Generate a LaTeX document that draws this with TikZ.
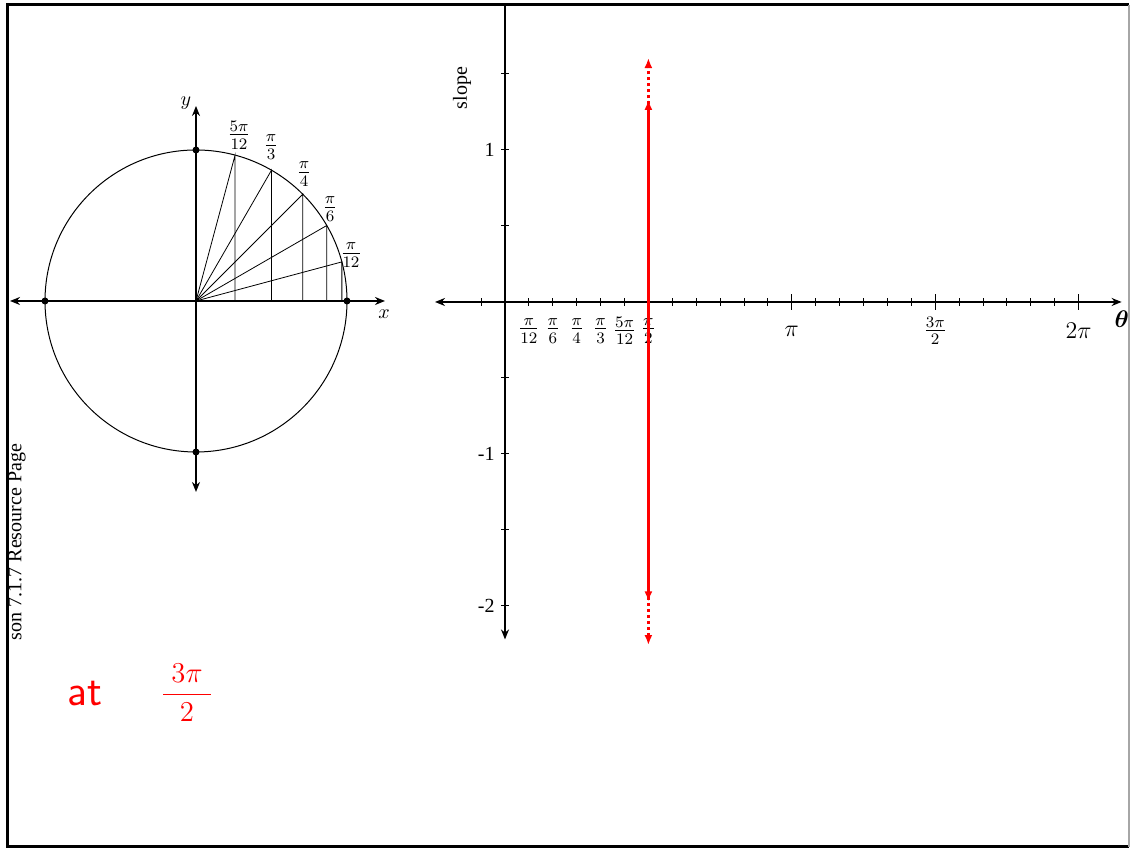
\documentclass[tikz,border=0pt]{standalone}
\usepackage{amsmath,amssymb}
\usepackage{fontspec}
\setmainfont{Liberation Serif}
\usetikzlibrary{arrows.meta}

\begin{document}
\begin{tikzpicture}[
  x=0.5pt, y=0.5pt,
  axis/.style={line width=0.9pt},
  dot/.style={circle,fill,inner sep=0pt,minimum size=3.5pt},
  lbl/.style={font=\normalsize,inner sep=1pt},
  frac/.style={font=\large,inner sep=1pt},
  slopeline/.style={red,line width=1.1pt}
]
  \useasboundingbox (0,0) rectangle (1131,849);

  % page frame
  \draw[line width=1.5pt] (1129,844) -- (7,844) -- (7,2) -- (1129,2);
  \draw[black!35,line width=0.6pt] (1129,844) -- (1129,2);
  \node[rotate=90,font=\normalsize] (page) at (17,307) {son 7.1.7 Resource Page};

  % unit circle
  \begin{scope}[shift={(196,548)}]
    \draw[line width=0.5pt] (0,0) circle (151);
    \draw[axis,{Stealth[length=5pt,width=4pt]}-{Stealth[length=5pt,width=4pt]}] (-186,0) -- (189,0);
    \draw[axis,{Stealth[length=5pt,width=4pt]}-{Stealth[length=5pt,width=4pt]}] (0,-191) -- (0,195);
    \foreach \a in {15,30,...,75} {
      \draw[line width=0.4pt] (0,0) -- (\a:151) -- ({151*cos(\a)},0);
    }
    \node[dot] (e) at (151,0) {};
    \node[dot] (w) at (-151,0) {};
    \node[dot] (n) at (0,151) {};
    \node[dot] (s) at (0,-151) {};
    \node[lbl] (xlab) at (188,-13) {$x$};
    \node[lbl] (ylab) at (-10,198) {$y$};
    \node[frac] (a75) at (43,166) {$\frac{5\pi}{12}$};
    \node[frac] (a60) at (75,154) {$\frac{\pi}{3}$};
    \node[frac] (a45) at (108,127) {$\frac{\pi}{4}$};
    \node[frac] (a30) at (134,92) {$\frac{\pi}{6}$};
    \node[frac] (a15) at (155,46) {$\frac{\pi}{12}$};
  \end{scope}

  % slope graph
  \begin{scope}[shift={(505,547)},x=11.95pt,y=76pt]
    \draw[axis,{Stealth[length=5pt,width=4pt]}-{Stealth[length=5pt,width=4pt]}] (-2.93,0) -- (25.8,0);
    \draw[axis,{Stealth[length=5pt,width=4pt]}-] (0,-2.22) -- (0,1.955);
    \foreach \k in {-1,1,2,...,24} {
      \draw[line width=0.5pt] (\k,0) ++(0,-2pt) -- ++(0,4pt);
    }
    \foreach \k in {12,18,24} {
      \draw[line width=0.6pt] (\k,0) ++(0,-4pt) -- ++(0,8pt);
    }
    \foreach \v in {-2,-1.5,-1,-0.5,0.5,1,1.5} {
      \draw[line width=0.5pt] (0,\v) ++(-2pt,0) -- ++(4pt,0);
    }
    \foreach \k/\t in {1/\frac{\pi}{12},2/\frac{\pi}{6},3/\frac{\pi}{4},4/\frac{\pi}{3},5/\frac{5\pi}{12},6/\frac{\pi}{2},18/\frac{3\pi}{2}} {
      \node[frac] (t\k) at (\k,-0.19) {$\t$};
    }
    \node[frac] (t12) at (12,-0.19) {$\pi$};
    \node[frac] (t24) at (24,-0.19) {$2\pi$};
    \foreach \v/\t in {1/1,-1/-1,-2/-2} {
      \node[lbl,anchor=east] (v\v) at ([xshift=-4pt]0,\v) {\t};
    }
    \node[lbl,rotate=90] (slope) at (-1.8,1.408) {slope};
    \node[frac] (theta) at (25.8,-0.11) {$\boldsymbol{\theta}$};

    % vertical slope at pi/2
    \draw[slopeline,{Latex[length=5pt,width=4pt]}-{Latex[length=5pt,width=4pt]}] (6,-1.97) -- (6,1.33);
    \draw[slopeline,dash pattern=on 1.5pt off 1.5pt,-{Latex[length=5pt,width=4pt]}] (6,1.30) -- (6,1.605);
    \draw[slopeline,dash pattern=on 1.5pt off 1.5pt,-{Latex[length=5pt,width=4pt]}] (6,-1.94) -- (6,-2.257);
  \end{scope}

  % handwritten note
  \node[red,font=\sffamily\fontsize{22}{24}\selectfont] (note) at (85,155) {at};
  \node[red,font=\fontsize{13.5}{15}\selectfont] (noteval) at (187,156) {$\dfrac{\;3\pi\;}{2}$};
\end{tikzpicture}
\end{document}
